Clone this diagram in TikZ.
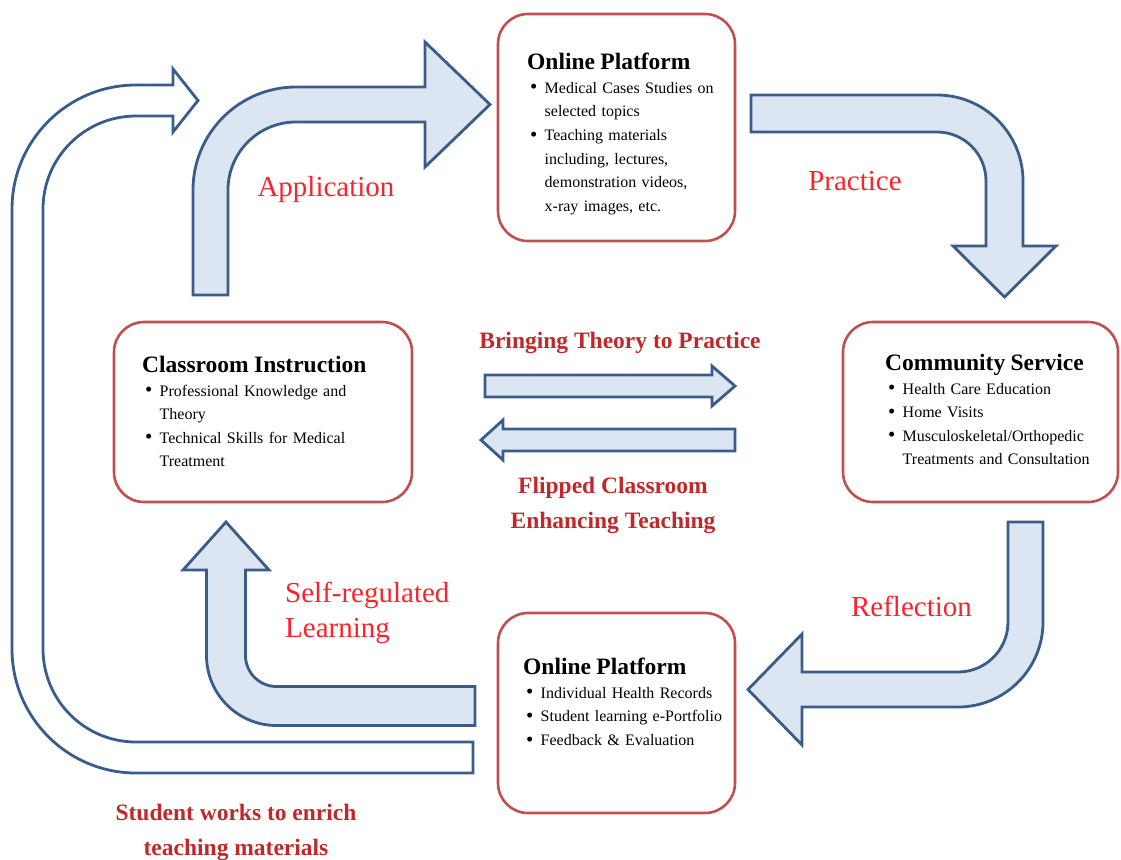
\documentclass[tikz,border=0pt]{standalone}
\usepackage{fontspec}
\setmainfont{Liberation Serif}

\definecolor{boxred}{RGB}{192,80,77}
\definecolor{arrfill}{RGB}{220,230,242}
\definecolor{arrline}{RGB}{56,93,138}
\definecolor{lblred}{RGB}{250,35,45}
\definecolor{lbldark}{RGB}{192,40,42}

% bullet lines inside the panels
\newcommand{\ptitle}[1]{{\fontsize{23.5}{23.6}\selectfont\bfseries #1}}
\newcommand{\bitem}{\hspace*{3pt}\makebox[14.5pt][l]{\raisebox{-0.5pt}{\scalebox{1.3}{\textbullet}}}}
\newcommand{\bcont}{\hspace*{17.5pt}}

\begin{document}
\begin{tikzpicture}[x=1pt,y=1pt,
  panel/.style={draw=boxred,line width=2.6pt,rounded corners=30pt,inner sep=0pt},
  paneltxt/.style={anchor=north west,inner sep=0pt,text width=270pt,align=left,
    font=\fontsize{16}{23.6}\selectfont},
  blk/.style={draw=arrline,fill=arrfill,line width=2.8pt},
  hollow/.style={draw=arrline,fill=white,line width=2.8pt},
  steplbl/.style={text=lblred,inner sep=0pt,anchor=base,font=\fontsize{29}{35}\selectfont},
  notelbl/.style={text=lbldark,inner sep=0pt,anchor=base,font=\fontsize{23.5}{35}\selectfont\bfseries}]
  \useasboundingbox (0,0) rectangle (1121,-859);

  % outer loop back to the start
  \draw[hollow] (473,-742) -- (136,-742) arc (270:180:93) -- (43,-209) arc (180:90:93)
    -- (173,-116) -- (173,-132) -- (198,-100.5) -- (173,-69) -- (173,-85) -- (136,-85)
    arc (90:180:124) -- (12,-649) arc (180:270:124) -- (473,-773) -- cycle;

  % the four bent arrows of the cycle
  \draw[blk] (193,-295) -- (193,-190) arc (180:90:103) -- (425,-87) -- (425,-42) -- (490,-104.5)
    -- (425,-167) -- (425,-122) -- (296,-122) arc (90:180:68) -- (228,-295) -- cycle;
  \draw[blk] (751,-95) -- (937,-95) arc (90:0:86) -- (1023,-246) -- (1056,-246) -- (1004.5,-297)
    -- (953,-246) -- (986,-246) -- (986,-181) arc (0:90:49) -- (751,-132) -- cycle;
  \draw[blk] (1008,-522) -- (1043,-522) -- (1043,-622) arc (0:-90:85) -- (802,-707) -- (802,-745)
    -- (748,-689.5) -- (802,-634) -- (802,-672) -- (958,-672) arc (-90:0:50) -- cycle;
  \draw[blk] (475,-686.5) -- (276.5,-686.5) arc (270:180:31) -- (245.5,-570) -- (269,-570) -- (226,-522)
    -- (183,-570) -- (206.5,-570) -- (206.5,-655.5) arc (180:270:70) -- (475,-725.5) -- cycle;

  % middle pair
  \draw[blk] (485,-375) -- (712,-375) -- (712,-366) -- (735,-386) -- (712,-406) -- (712,-397) -- (485,-397) -- cycle;
  \draw[blk] (735,-429) -- (503,-429) -- (503,-420) -- (481,-440) -- (503,-460) -- (503,-451) -- (735,-451) -- cycle;

  % panels
  \node[panel,minimum width=237pt,minimum height=227pt] (opTop) at (616.5,-127.5) {};
  \node[panel,minimum width=298pt,minimum height=180pt] (cls) at (263,-412) {};
  \node[panel,minimum width=275pt,minimum height=180pt] (com) at (980.5,-412) {};
  \node[panel,minimum width=237pt,minimum height=200pt] (opBot) at (616.5,-713) {};

  \node[paneltxt] (opTopTxt) at (527,-53) {\ptitle{Online Platform}\\
    \bitem Medical Cases Studies on\\ \bcont selected topics\\
    \bitem Teaching materials\\ \bcont including, lectures,\\ \bcont demonstration videos,\\ \bcont x-ray images, etc.};
  \node[paneltxt] (clsTxt) at (142,-356) {\ptitle{Classroom Instruction}\\
    \bitem Professional Knowledge and\\ \bcont Theory\\
    \bitem Technical Skills for Medical\\ \bcont Treatment};
  \node[paneltxt] (comTxt) at (885,-354) {\ptitle{Community Service}\\
    \bitem Health Care Education\\ \bitem Home Visits\\
    \bitem Musculoskeletal/Orthopedic\\ \bcont Treatments and Consultation};
  \node[paneltxt] (opBotTxt) at (523,-658) {\ptitle{Online Platform}\\
    \bitem Individual Health Records\\ \bitem Student learning e-Portfolio\\ \bitem Feedback \& Evaluation};

  % labels
  \node[steplbl] (lApp) at (326,-196) {Application};
  \node[steplbl] (lPra) at (855,-190) {Practice};
  \node[steplbl] (lRef) at (911.5,-616) {Reflection};
  \node[steplbl,anchor=north west,align=left] (lSelf) at (285,-582) {Self-regulated\\Learning};
  \node[notelbl] (lBring) at (620,-348) {Bringing Theory to Practice};
  \node[notelbl,anchor=north,align=center] (lFlip) at (613,-477) {Flipped Classroom\\Enhancing Teaching};
  \node[notelbl,anchor=north,align=center] (lStud) at (236,-804) {Student works to enrich\\teaching materials};
\end{tikzpicture}
\end{document}
